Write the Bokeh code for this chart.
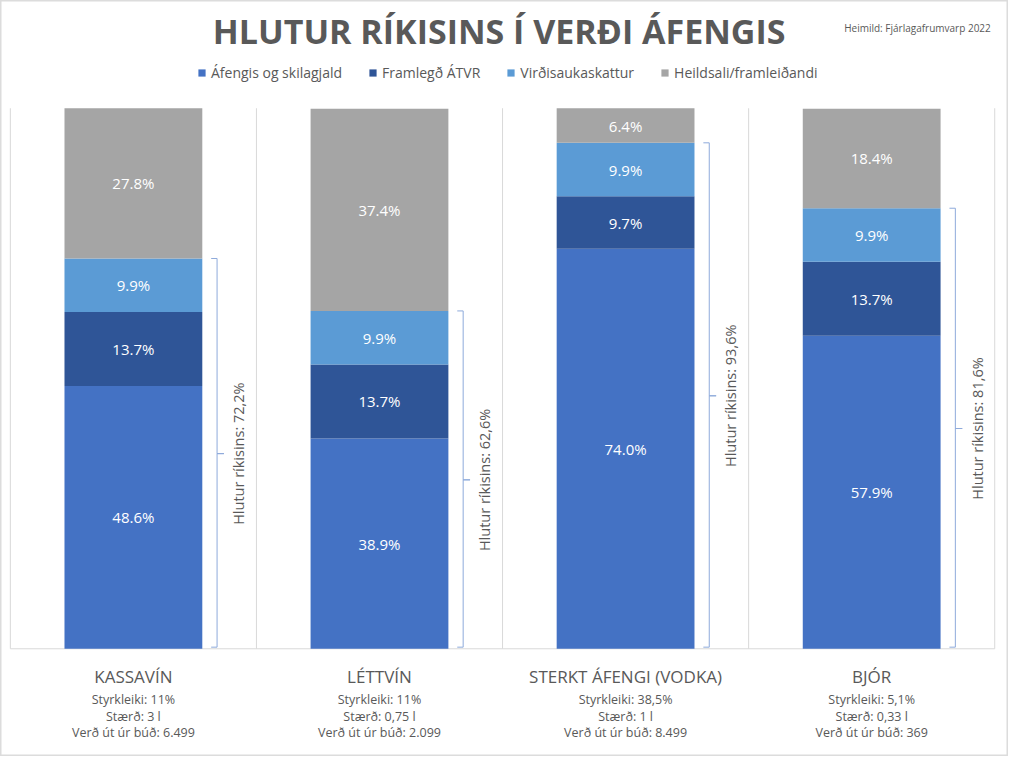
import math
from bokeh.plotting import figure
from bokeh.models import ColumnDataSource, Range1d, Label
from bokeh.core.properties import value
from bokeh.embed import file_html
from bokeh.resources import INLINE

# ---------------- data ----------------
categories = ["KASSAVÍN", "LÉTTVÍN", "STERKT ÁFENGI (VODKA)", "BJÓR"]
series_names = ["Áfengis og skilagjald", "Framlegð ÁTVR", "Virðisaukaskattur", "Heildsali/framleiðandi"]
afengi = [48.6, 38.9, 74.0, 57.9]
atvr = [13.7, 13.7, 9.7, 13.7]
vsk = [9.9, 9.9, 9.9, 9.9]
heild = [27.8, 37.4, 6.4, 18.4]
state_share = ["72,2%", "62,6%", "93,6%", "81,6%"]
strength = ["11%", "11%", "38,5%", "5,1%"]
size = ["3 l", "0,75 l", "1 l", "0,33 l"]
price = ["6.499", "2.099", "8.499", "369"]

colors = ["#4472C4", "#2F5597", "#5B9BD5", "#A5A5A5"]
GREY = "#595959"
FONT = "Open Sans"

W, H = 1008, 756
REF_W, REF_H = 1024, 772
PX_PER_UNIT = 5.52      # reference pixels per percentage point
PX_PER_CAT = 250.0      # reference pixels per category


def ypx(ref):  # reference pixel row -> data y
    return 100 - (ref - 110) / PX_PER_UNIT


def xpx(ref):  # reference pixel column -> data x
    return (ref - 135) / PX_PER_CAT


x = list(range(len(categories)))
src = ColumnDataSource(dict(x=x, afengi=afengi, atvr=atvr, vsk=vsk, heild=heild))

p = figure(width=W, height=H, output_backend="svg", toolbar_location=None,
           x_range=Range1d(xpx(0), xpx(REF_W)), y_range=Range1d(ypx(REF_H), ypx(0)),
           min_border=0, min_border_left=0, min_border_right=0,
           min_border_top=0, min_border_bottom=0)
p.axis.visible = False
p.grid.visible = False
p.outline_line_color = "#DCDCDC"
p.outline_line_width = 2
p.background_fill_color = "white"

# separators & baseline
sep_x = [i - 0.5 for i in range(len(categories) + 1)]
p.segment(x0=sep_x, y0=[0] * len(sep_x), x1=sep_x, y1=[100] * len(sep_x),
          line_color="#D9D9D9", line_width=1)
p.segment(x0=[sep_x[0]], y0=[0], x1=[sep_x[-1]], y1=[0], line_color="#D9D9D9", line_width=1)

BAR_W = 0.56
renderers = p.vbar_stack(["afengi", "atvr", "vsk", "heild"], x="x", width=BAR_W,
                         color=colors, line_color=None, source=src,
                         legend_label=series_names)

# data labels
lx, ly, lt = [], [], []
for i in range(len(categories)):
    base = 0
    for s in (afengi, atvr, vsk, heild):
        v = s[i]
        lx.append(i)
        ly.append(base + v / 2)
        lt.append(f"{v:.1f}%")
        base += v
p.text(x=lx, y=ly, text=lt, text_color="white", text_font=value(FONT),
       text_font_size="15px", text_align="center", text_baseline="middle")

# brackets for state share
bxs, bys = [], []
tx, ty, tt = [], [], []
for i in range(len(categories)):
    top = afengi[i] + atvr[i] + vsk[i]
    r = i + BAR_W / 2
    xl, xv, xm = r + 9 / PX_PER_CAT, r + 15 / PX_PER_CAT, r + 22 / PX_PER_CAT
    bxs.append([xl, xv, xv, xm, xv, xv, xl])
    bys.append([top, top, top / 2, top / 2, top / 2, 0.3, 0.3])
    tx.append(r + 37 / PX_PER_CAT)
    ty.append(top / 2)
    tt.append("Hlutur ríkisins: " + state_share[i])
p.multi_line(xs=bxs, ys=bys, line_color="#8EAADB", line_width=1)
p.text(x=tx, y=ty, text=tt, angle=math.pi / 2, text_color=GREY, text_font=value(FONT),
       text_font_size="14.5px", text_align="center", text_baseline="middle")

# category names and info lines
p.text(x=x, y=[ypx(690)] * 4, text=categories, text_color=GREY, text_font=value(FONT),
       text_font_size="17px", text_align="center", text_baseline="middle")
info = [("Styrkleiki: ", strength, 714), ("Stærð: ", size, 731), ("Verð út úr búð: ", price, 748)]
for prefix, vals, row in info:
    p.text(x=x, y=[ypx(row)] * 4, text=[prefix + v for v in vals], text_color=GREY,
           text_font=value(FONT), text_font_size="12.5px", text_align="center",
           text_baseline="middle")

# title & source
p.add_layout(Label(x=xpx(511), y=ypx(31), text="HLUTUR RÍKISINS Í VERÐI  ÁFENGIS",
                   text_color=GREY, text_font=FONT, text_font_size="34px",
                   text_font_style="bold", text_align="center", text_baseline="middle"))
p.add_layout(Label(x=xpx(1006), y=ypx(28), text="Heimild: Fjárlagafrumvarp 2022",
                   text_color=GREY, text_font=FONT, text_font_size="10px",
                   text_align="right", text_baseline="middle"))

# legend
lg = p.legend[0]
lg.orientation = "horizontal"
lg.location = (197, H - 72 - 10)
lg.border_line_color = None
lg.background_fill_alpha = 0
lg.label_text_font = FONT
lg.label_text_font_size = "14px"
lg.label_text_color = GREY
lg.glyph_width = 9
lg.glyph_height = 9
lg.label_standoff = 5
lg.spacing = 26
lg.padding = 0
lg.margin = 0
lg.label_height = 20

open("out.html", "w").write(file_html(p, INLINE))
